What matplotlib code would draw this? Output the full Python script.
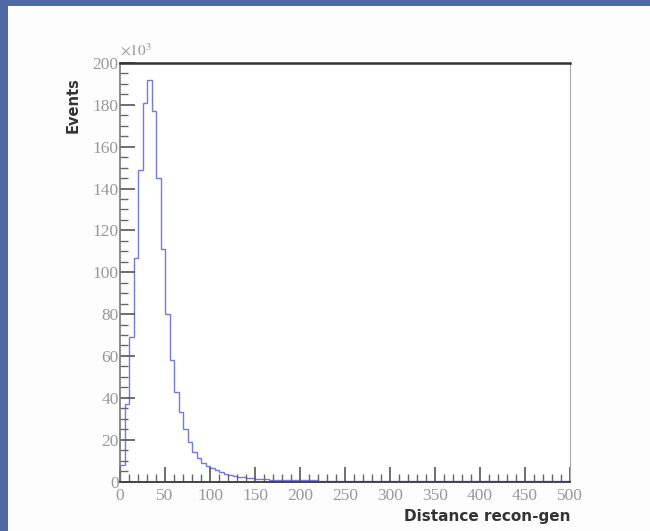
import numpy as np
import matplotlib
matplotlib.use("Agg")
import matplotlib.pyplot as plt
from matplotlib.patches import Rectangle
from matplotlib.ticker import MultipleLocator

# bin edges: 100 bins of width 5 between 0 and 500
bin_width = 5
x_min = 0
x_max = 500

# events per bin, in units of 10^3
events = [
    8, 37, 69, 107, 149, 181, 192, 177, 145, 111,
    80, 58, 43, 33, 25, 19, 14, 11, 9, 7.5,
    6.3, 5.3, 4.5, 3.8, 3.2, 2.7, 2.3, 2.0, 1.7, 1.5,
    1.3, 1.1, 1.0, 0.9, 0.8, 0.75, 0.7, 0.65, 0.6, 0.58,
    0.55, 0.52, 0.5, 0.48, 0.46, 0.44, 0.42, 0.41, 0.4, 0.39,
    0.38, 0.37, 0.36, 0.35, 0.35, 0.34, 0.33, 0.33, 0.32, 0.32,
    0.31, 0.31, 0.3, 0.3, 0.3, 0.29, 0.29, 0.29, 0.28, 0.28,
    0.28, 0.27, 0.27, 0.27, 0.27, 0.26, 0.26, 0.26, 0.26, 0.25,
    0.25, 0.25, 0.25, 0.25, 0.24, 0.24, 0.24, 0.24, 0.24, 0.23,
    0.23, 0.23, 0.23, 0.23, 0.23, 0.22, 0.22, 0.22, 0.22, 0.22,
]

x_ticks = [0, 50, 100, 150, 200, 250, 300, 350, 400, 450, 500]
y_ticks = [0, 20, 40, 60, 80, 100, 120, 140, 160, 180, 200]

edges = np.arange(x_min, x_max + bin_width, bin_width)

fig = plt.figure(figsize=(6.5, 5.31), dpi=100)
fig.patch.set_facecolor("#4d6aa6")

# white canvas over the blue slide background
fig.add_artist(Rectangle((8 / 650, 0), 1, 1 - 6 / 531,
                         transform=fig.transFigure,
                         facecolor="#fdfdfd", edgecolor="none", zorder=0))

ax = fig.add_axes([120 / 650, 1 - 481.5 / 531, 450 / 650, 418.5 / 531])
ax.set_facecolor("white")

ax.stairs(events, edges, color="#7479e8", linewidth=1.0)

ax.set_xlim(x_min, x_max)
ax.set_ylim(0, 200)

ax.set_xticks(x_ticks)
ax.set_yticks(y_ticks)
ax.set_xticklabels([str(v) for v in x_ticks])
ax.set_yticklabels([str(v) for v in y_ticks])
ax.xaxis.set_minor_locator(MultipleLocator(10))
ax.yaxis.set_minor_locator(MultipleLocator(5))

ax.tick_params(axis="both", which="major", direction="in", length=11,
               width=1.2, color="#555555", labelsize=12.5,
               labelcolor="#999999")
ax.tick_params(axis="both", which="minor", direction="in", length=6,
               width=1.0, color="#666666")
ax.tick_params(axis="x", pad=5)
ax.tick_params(axis="y", pad=1)

for lab in ax.get_xticklabels() + ax.get_yticklabels():
    lab.set_fontfamily("Liberation Serif")

ax.spines["top"].set_color("#333333")
ax.spines["top"].set_linewidth(1.8)
ax.spines["bottom"].set_color("#444444")
ax.spines["bottom"].set_linewidth(1.4)
ax.spines["left"].set_color("#777777")
ax.spines["left"].set_linewidth(1.2)
ax.spines["right"].set_color("#aaaaaa")
ax.spines["right"].set_linewidth(0.8)

ax.text(0.0, 1.01, r"$\times10^{3}$", transform=ax.transAxes,
        ha="left", va="bottom", fontsize=11, color="#999999",
        math_fontfamily="stix")

ax.set_ylabel("Events", fontsize=10.5, fontweight="bold", color="#333333",
              family="DejaVu Sans")
ax.yaxis.set_label_coords(-0.088, 0.9)
ax.set_xlabel("Distance recon-gen", fontsize=11, fontweight="bold",
              color="#333333", family="DejaVu Sans")
ax.xaxis.set_label_coords(1.0, -0.065)
ax.xaxis.label.set_horizontalalignment("right")

fig.savefig("out.png", dpi=100, facecolor=fig.get_facecolor())
